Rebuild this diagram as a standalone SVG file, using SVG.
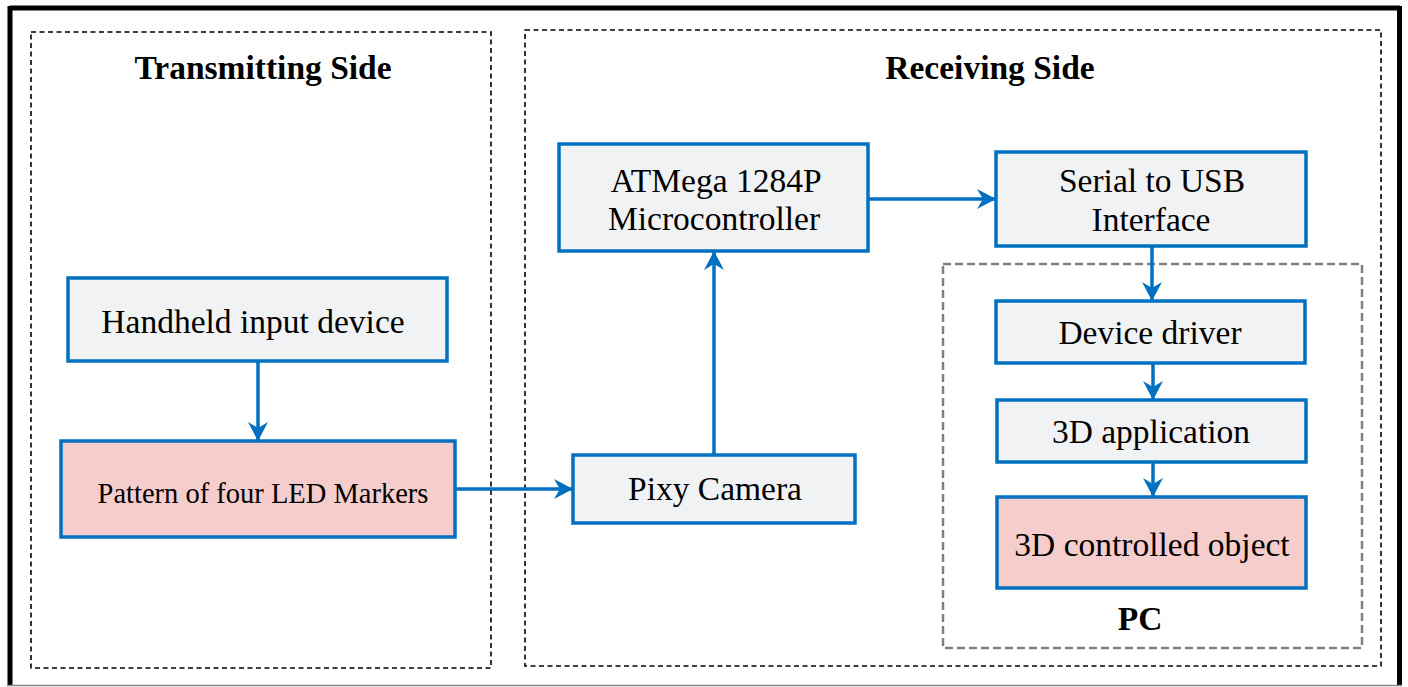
<svg xmlns="http://www.w3.org/2000/svg" width="1408" height="687" viewBox="0 0 1408 687">
<style>
.box{stroke:#0070C0;stroke-width:3.5;fill:#F1F2F4}
.pink{fill:#F5CDCC}
.t{font-size:33.5px;fill:#000;text-anchor:middle}
.b{font-weight:bold}
.grp{fill:none;stroke:#000;stroke-width:1.6;stroke-dasharray:5 3.5}
.pc{fill:none;stroke:#808080;stroke-width:2.5;stroke-dasharray:8 4}
.c{stroke:#0070C0;stroke-width:3.5;fill:none;marker-end:url(#ah)}
</style>
<defs>
<marker id="ah" markerUnits="userSpaceOnUse" markerWidth="26" markerHeight="26" viewBox="-22 -13 26 26" refX="0" refY="0" orient="auto">
<path d="M0,0 L-19,-10 L-13,0 L-19,10 Z" fill="#0070C0"/>
</marker>
</defs>
<rect width="1408" height="687" fill="#fff"/>
<g id="frame">
<line x1="10" y1="8" x2="1400" y2="8" stroke="#000" stroke-width="5"/>
<line x1="10" y1="6" x2="10" y2="686" stroke="#000" stroke-width="5"/>
<line x1="1399.5" y1="6" x2="1399.5" y2="686" stroke="#000" stroke-width="5"/>
<line x1="7" y1="685.5" x2="1402" y2="685.5" stroke="#888" stroke-width="1.5"/>
</g>
<g font-family="Liberation Serif, Tinos, Times New Roman, DejaVu Serif, serif">
<g id="transmitting-side">
<rect class="grp" x="31" y="32" width="460" height="636"/>
<text class="t b" x="263" y="79">Transmitting Side</text>
</g>
<g id="receiving-side">
<rect class="grp" x="525" y="30" width="856" height="636"/>
<text class="t b" x="990" y="79">Receiving Side</text>
</g>
<g id="pc">
<rect class="pc" x="943" y="264" width="419" height="384"/>
<text class="t b" x="1140" y="630">PC</text>
</g>
<g id="handheld">
<rect class="box" x="68" y="278" width="379" height="83"/>
<text class="t" x="253" y="333">Handheld input device</text>
</g>
<g id="led-pattern">
<rect class="box pink" x="61" y="441" width="394" height="96"/>
<text class="t" x="263" y="503" style="font-size:28.5px">Pattern of four LED Markers</text>
</g>
<g id="pixy">
<rect class="box" x="573" y="455" width="282" height="68"/>
<text class="t" x="715" y="500">Pixy Camera</text>
</g>
<g id="atmega">
<rect class="box" x="559" y="144" width="309" height="107"/>
<text class="t" x="716" y="192">ATMega 1284P</text>
<text class="t" x="714" y="230">Microcontroller</text>
</g>
<g id="serial-usb">
<rect class="box" x="996" y="152" width="310" height="94"/>
<text class="t" x="1152" y="192">Serial to USB</text>
<text class="t" x="1151" y="231">Interface</text>
</g>
<g id="device-driver">
<rect class="box" x="996" y="301" width="309" height="62"/>
<text class="t" x="1150" y="344">Device driver</text>
</g>
<g id="app3d">
<rect class="box" x="997" y="400" width="309" height="62"/>
<text class="t" x="1151" y="443">3D application</text>
</g>
<g id="object3d">
<rect class="box pink" x="997" y="497" width="309" height="91"/>
<text class="t" x="1152" y="556">3D controlled object</text>
</g>
</g>
<g id="connectors">
<line class="c" x1="258" y1="361" x2="258" y2="441"/>
<line class="c" x1="455" y1="489" x2="573" y2="489"/>
<line class="c" x1="714" y1="455" x2="714" y2="251"/>
<line class="c" x1="868" y1="199" x2="996" y2="199"/>
<line class="c" x1="1152" y1="246" x2="1152" y2="301"/>
<line class="c" x1="1153" y1="363" x2="1153" y2="400"/>
<line class="c" x1="1153" y1="462" x2="1153" y2="497"/>
</g>
</svg>
